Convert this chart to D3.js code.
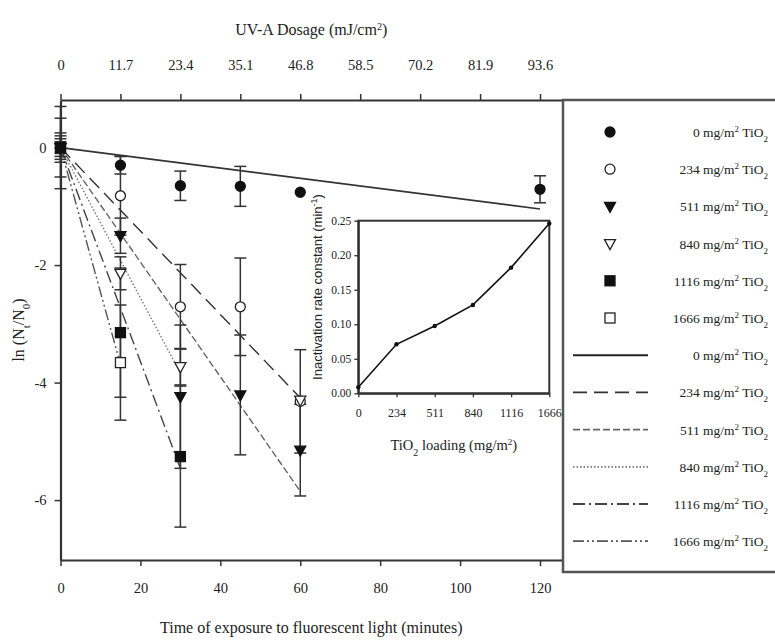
<!DOCTYPE html>
<html>
<head>
<meta charset="utf-8">
<script src="https://cdn.jsdelivr.net/npm/d3@7"></script>
<style>
  body { margin: 0; background: #fff; }
  svg { display: block; }
  text { font-family: "Liberation Serif", "Times New Roman", serif; fill: #222; }
</style>
</head>
<body>
<script>
// TiO2 loadings (mg/m2) and their first-order inactivation rate constants (1/min)
const loadings = [0, 234, 511, 840, 1116, 1666];
const rateConstants = [0.0087, 0.071, 0.0975, 0.128, 0.182, 0.246];
// how far (minutes) each fitted line is drawn
const fitEnd = [120, 60, 60, 30, 30, 15];

// measured ln(Nt/N0) with error bar half-widths, per loading
const time0 = [0, 15, 30, 45, 60, 120];
const ln0 = [0, -0.30, -0.65, -0.66, -0.76, -0.71];
const err0 = [0.15, 0.15, 0.25, 0.34, 0, 0.23];

const time234 = [0, 15, 30, 45, 60];
const ln234 = [0, -0.82, -2.71, -2.71, -4.32];
const err234 = [0.70, 0.67, 0.72, 0.83, 0.88];

const time511 = [0, 15, 30, 45, 60];
const ln511 = [0, -1.50, -4.24, -4.21, -5.15];
const err511 = [0.50, 0.30, 1.22, 1.02, 0.78];

const time840 = [0, 15, 30, 60];
const ln840 = [0, -2.14, -3.73, -4.30];
const err840 = [0.25, 0.28, 0.31, 0];

const time1116 = [0, 15, 30];
const ln1116 = [0, -3.15, -5.26];
const err1116 = [0.20, 1.10, 1.20];

const time1666 = [0, 15];
const ln1666 = [0, -3.66];
const err1666 = [0.10, 0.98];

// axis ticks
const timeTicks = [0, 20, 40, 60, 80, 100, 120];
const dosageTicks = [0, 11.7, 23.4, 35.1, 46.8, 58.5, 70.2, 81.9, 93.6];
const lnTicks = [0, -2, -4, -6];
const rateTicks = [0, 0.05, 0.10, 0.15, 0.20, 0.25];
const dosePerMinute = 0.78; // mJ/cm2 of UV-A per minute

const seriesTimes = [time0, time234, time511, time840, time1116, time1666];
const seriesLn = [ln0, ln234, ln511, ln840, ln1116, ln1666];
const seriesErr = [err0, err234, err511, err840, err1116, err1666];
const markerKinds = ["circleFilled", "circleOpen", "triDownFilled", "triDownOpen", "squareFilled", "squareOpen"];
const lineDash = [null, "14,7", "7,3", "1.5,2", "12,4,2,4", "11,3,2,3,2,3"];
const lineColor = ["#333", "#333", "#666", "#777", "#444", "#555"];
// open symbols go underneath, filled ones on top
const drawOrder = [1, 3, 5, 0, 2, 4];

const W = 775, H = 643;
const svg = d3.select("body").append("svg").attr("width", W).attr("height", H);

const plot = { left: 60.5, right: 562, top: 100, bottom: 560 };
const x = d3.scaleLinear().domain([0, 125.5]).range([plot.left, plot.right]);
const xTop = d3.scaleLinear().domain([0, 125.5 * dosePerMinute]).range([plot.left, plot.right]);
const y = d3.scaleLinear().domain([0.81, -7.02]).range([plot.top, plot.bottom]);

// ---- axes ----
function styleAxis(g, size) {
  g.select(".domain").attr("stroke", "#333").attr("stroke-width", 2.2);
  g.selectAll(".tick line").attr("stroke", "#333").attr("stroke-width", 1.5);
  g.selectAll(".tick text").attr("font-family", "Liberation Serif, serif").attr("font-size", size).attr("fill", "#222");
}

svg.append("g").attr("transform", `translate(0,${plot.bottom})`)
  .call(d3.axisBottom(x).tickValues(timeTicks).tickSize(6).tickSizeOuter(0).tickPadding(17).tickFormat(d => String(d)))
  .call(g => styleAxis(g, 14.5));

svg.append("g").attr("transform", `translate(0,${plot.top})`)
  .call(d3.axisTop(xTop).tickValues(dosageTicks).tickSize(6).tickSizeOuter(0).tickPadding(24)
        .tickFormat((d, i) => String(dosageTicks[i])))
  .call(g => styleAxis(g, 14.5));

svg.append("g").attr("transform", `translate(${plot.left},0)`)
  .call(d3.axisLeft(y).tickValues(lnTicks).tickSize(6).tickSizeOuter(0).tickPadding(8).tickFormat(d => String(d)))
  .call(g => styleAxis(g, 14.5));

// axis titles
const cx = (plot.left + plot.right) / 2;
const topTitle = svg.append("text").attr("x", cx).attr("y", 35).attr("text-anchor", "middle").attr("font-size", 16);
topTitle.append("tspan").text("UV-A Dosage (mJ/cm");
topTitle.append("tspan").attr("baseline-shift", "super").attr("font-size", 10).text("2");
topTitle.append("tspan").text(")");

svg.append("text").attr("x", cx).attr("y", 633).attr("text-anchor", "middle").attr("font-size", 16)
  .text("Time of exposure to fluorescent light (minutes)");

const yTitle = svg.append("text").attr("transform", `translate(24,${(plot.top + plot.bottom) / 2}) rotate(-90)`)
  .attr("text-anchor", "middle").attr("font-size", 16);
yTitle.append("tspan").text("ln (N");
yTitle.append("tspan").attr("baseline-shift", "sub").attr("font-size", 11).text("t");
yTitle.append("tspan").text("/N");
yTitle.append("tspan").attr("baseline-shift", "sub").attr("font-size", 11).text("0");
yTitle.append("tspan").text(")");

// ---- fitted first-order lines ----
const fitLine = d3.line().x(d => x(d[0])).y(d => y(d[1]));
loadings.forEach((L, i) => {
  const pts = [[0, 0], [fitEnd[i], -rateConstants[i] * fitEnd[i]]];
  svg.append("path").attr("d", fitLine(pts)).attr("fill", "none")
    .attr("stroke", lineColor[i]).attr("stroke-width", i === 0 ? 1.6 : 1.4)
    .attr("stroke-dasharray", lineDash[i]);
});

// ---- markers ----
function drawMarker(g, kind, cxp, cyp) {
  const filled = kind.endsWith("Filled");
  const fill = filled ? "#111" : "#fff";
  const stroke = filled ? "#111" : "#222";
  let el;
  if (kind.startsWith("circle")) {
    el = g.append("circle").attr("cx", cxp).attr("cy", cyp).attr("r", 5);
  } else if (kind.startsWith("square")) {
    el = g.append("rect").attr("x", cxp - 5).attr("y", cyp - 5).attr("width", 10).attr("height", 10);
  } else {
    el = g.append("path").attr("d", `M${cxp - 5.5},${cyp - 4} L${cxp + 5.5},${cyp - 4} L${cxp},${cyp + 6} Z`);
  }
  el.attr("fill", fill).attr("stroke", stroke).attr("stroke-width", 1.3);
}

// ---- error bars then points ----
const bars = svg.append("g").attr("stroke", "#333").attr("stroke-width", 1.5);
seriesTimes.forEach((ts, s) => {
  ts.forEach((t, j) => {
    const e = seriesErr[s][j];
    if (!e) return;
    const v = seriesLn[s][j];
    const px = x(t);
    bars.append("line").attr("x1", px).attr("x2", px).attr("y1", y(v + e)).attr("y2", y(v - e));
    bars.append("line").attr("x1", px - 6).attr("x2", px + 6).attr("y1", y(v + e)).attr("y2", y(v + e));
    bars.append("line").attr("x1", px - 6).attr("x2", px + 6).attr("y1", y(v - e)).attr("y2", y(v - e));
  });
});
const marks = svg.append("g");
drawOrder.forEach(s => {
  seriesTimes[s].forEach((t, j) => drawMarker(marks, markerKinds[s], x(t), y(seriesLn[s][j])));
});

// ---- inset: rate constant vs TiO2 loading ----
const inset = { left: 358.3, right: 549.3, top: 220.7, bottom: 393.3 };
const ix = d3.scalePoint().domain(loadings).range([inset.left, inset.right]);
const iy = d3.scaleLinear().domain([0, 0.25]).range([inset.bottom, inset.top]);

svg.append("rect").attr("x", inset.left).attr("y", inset.top)
  .attr("width", inset.right - inset.left).attr("height", inset.bottom - inset.top)
  .attr("fill", "#fff").attr("stroke", "#333").attr("stroke-width", 2);

const ixAxis = svg.append("g").attr("transform", `translate(0,${inset.bottom})`)
  .call(d3.axisBottom(ix).tickSize(4).tickSizeOuter(0).tickPadding(11).tickFormat(d => String(d)));
ixAxis.select(".domain").attr("stroke", "#333").attr("stroke-width", 2);
ixAxis.selectAll(".tick line").attr("stroke", "#333").attr("stroke-width", 1.3);
ixAxis.selectAll(".tick text").attr("font-family", "Liberation Serif, serif").attr("font-size", 12).attr("fill", "#222");

const iyAxis = svg.append("g").attr("transform", `translate(${inset.left},0)`)
  .call(d3.axisLeft(iy).tickValues(rateTicks).tickSize(4).tickSizeOuter(0).tickPadding(3).tickFormat(d3.format(".2f")));
iyAxis.select(".domain").attr("stroke", "#333").attr("stroke-width", 2);
iyAxis.selectAll(".tick line").attr("stroke", "#333").attr("stroke-width", 1.3);
iyAxis.selectAll(".tick text").attr("font-family", "Liberation Serif, serif").attr("font-size", 11.5).attr("fill", "#222");

const rateData = loadings.map((L, i) => [L, rateConstants[i]]);
svg.append("path").attr("d", d3.line().x(d => ix(d[0])).y(d => iy(d[1]))(rateData))
  .attr("fill", "none").attr("stroke", "#111").attr("stroke-width", 1.6);
svg.append("g").selectAll("circle").data(rateData).join("circle")
  .attr("cx", d => ix(d[0])).attr("cy", d => iy(d[1])).attr("r", 2.2).attr("fill", "#111");

const ixTitle = svg.append("text").attr("x", (inset.left + inset.right) / 2).attr("y", 450)
  .attr("text-anchor", "middle").attr("font-size", 14.5);
ixTitle.append("tspan").text("TiO");
ixTitle.append("tspan").attr("baseline-shift", "sub").attr("font-size", 10).text("2");
ixTitle.append("tspan").text(" loading (mg/m");
ixTitle.append("tspan").attr("baseline-shift", "super").attr("font-size", 9).text("2");
ixTitle.append("tspan").text(")");

const iyTitle = svg.append("text").attr("transform", "translate(322,287) rotate(-90)")
  .attr("text-anchor", "middle").attr("font-size", 13)
  .style("font-family", "'Liberation Sans', Arial, sans-serif");
iyTitle.append("tspan").text("Inactivation rate constant (min");
iyTitle.append("tspan").attr("baseline-shift", "super").attr("font-size", 9).text("-1");
iyTitle.append("tspan").text(")");

// ---- legend ----
const legend = { left: 563, top: 100, bottom: 572 };
svg.append("rect").attr("x", legend.left).attr("y", legend.top)
  .attr("width", W - legend.left + 10).attr("height", legend.bottom - legend.top)
  .attr("fill", "none").attr("stroke", "#555").attr("stroke-width", 2.5);

const rowY0 = 132, rowStep = 37.2;
function legendLabel(yPos, L) {
  const t = svg.append("text").attr("x", 768).attr("y", yPos + 5).attr("text-anchor", "end").attr("font-size", 13.5);
  t.append("tspan").text(`${L} mg/m`);
  t.append("tspan").attr("baseline-shift", "super").attr("font-size", 9).text("2");
  t.append("tspan").text(" TiO");
  t.append("tspan").attr("baseline-shift", "sub").attr("font-size", 9).text("2");
}
loadings.forEach((L, i) => {
  const ry = rowY0 + i * rowStep;
  drawMarker(svg, markerKinds[i], 610, ry);
  legendLabel(ry, L);
});
loadings.forEach((L, i) => {
  const ry = rowY0 + (i + 6) * rowStep;
  svg.append("line").attr("x1", 573).attr("x2", 648).attr("y1", ry).attr("y2", ry)
    .attr("stroke", i === 0 ? "#222" : lineColor[i]).attr("stroke-width", i === 0 ? 2 : 1.8)
    .attr("stroke-dasharray", lineDash[i]);
  legendLabel(ry, L);
});
</script>
</body>
</html>
